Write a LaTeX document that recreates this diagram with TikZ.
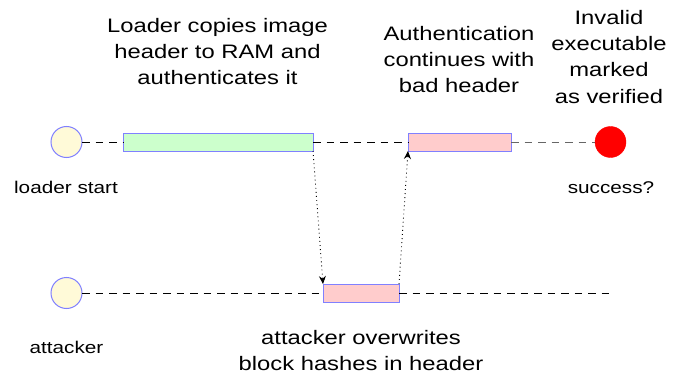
\documentclass[tikz,border=0pt]{standalone}
\usepackage{fontspec}
\setmainfont{Liberation Sans}
\newfontfamily\lblfont{Liberation Sans}[FakeStretch=1.22]
\usetikzlibrary{arrows.meta}
\definecolor{circfill}{HTML}{FFFAD8}
\definecolor{edgeblue}{HTML}{8080FF}
\definecolor{greenfill}{HTML}{CCFFCC}
\definecolor{pinkfill}{HTML}{FFCCCC}
\tikzset{
  x=1pt, y=-1pt,
  bigtext/.style={font=\lblfont\fontsize{19.5}{26}\selectfont, align=center, inner sep=0pt, anchor=base},
  smalltext/.style={font=\lblfont\fontsize{17}{22}\selectfont, inner sep=0pt, anchor=base},
  startcirc/.style={circle, draw=edgeblue, fill=circfill, line width=1pt, minimum size=31pt, inner sep=0pt, outer sep=0pt},
  endcirc/.style={circle, draw=red, fill=red, minimum size=31pt, inner sep=0pt, outer sep=0pt},
  bar/.style={rectangle, draw=edgeblue, line width=1pt, minimum height=18pt, inner sep=0pt, outer sep=0pt},
  timeline/.style={dash pattern=on 7.5pt off 6pt, line width=1pt},
  flow/.style={dash pattern=on 0.9pt off 3.2pt, line width=0.9pt, -{Stealth[length=8pt,width=7pt]}}
}
\begin{document}
\begin{tikzpicture}
\useasboundingbox[fill=white] (0,0) rectangle (682,377);
% top timeline
\node[startcirc] (ls) at (66.5,142) {};
\node[bar, fill=greenfill, minimum width=190pt] (copy) at (218,142) {};
\node[bar, fill=pinkfill, minimum width=103pt] (cont) at (459.5,142) {};
\node[endcirc] (succ) at (610.5,142) {};
% bottom timeline
\node[startcirc] (att) at (66.5,293) {};
\node[bar, fill=pinkfill, minimum width=76pt] (over) at (361,293) {};
\coordinate (attend) at (615,293);
% dashed lines
\draw[timeline] (ls) -- (copy);
\draw[timeline] (copy) -- (cont);
\draw[timeline, black!60] (cont) -- (succ);
\draw[timeline] (att) -- (over);
\draw[timeline] (over) -- (attend);
% dotted arrows
\draw[flow] (copy.south east) -- (over.north west);
\draw[flow] (over.north east) -- (cont.south west);
% labels (anchor=base is the baseline of the last line)
\node[bigtext] (t1) at (217.5,85) {Loader copies image\\header to RAM and\\authenticates it};
\node[bigtext] (t2) at (459,93) {Authentication\\continues with\\bad header};
\node[bigtext] (t3) at (609,103) {Invalid\\executable\\marked\\as verified};
\node[bigtext] (t4) at (361,370) {attacker overwrites\\block hashes in header};
\node[smalltext] (l1) at (66,193) {loader start};
\node[smalltext] (l2) at (611,193) {success?};
\node[smalltext] (l3) at (66.5,353) {attacker};
\end{tikzpicture}
\end{document}
